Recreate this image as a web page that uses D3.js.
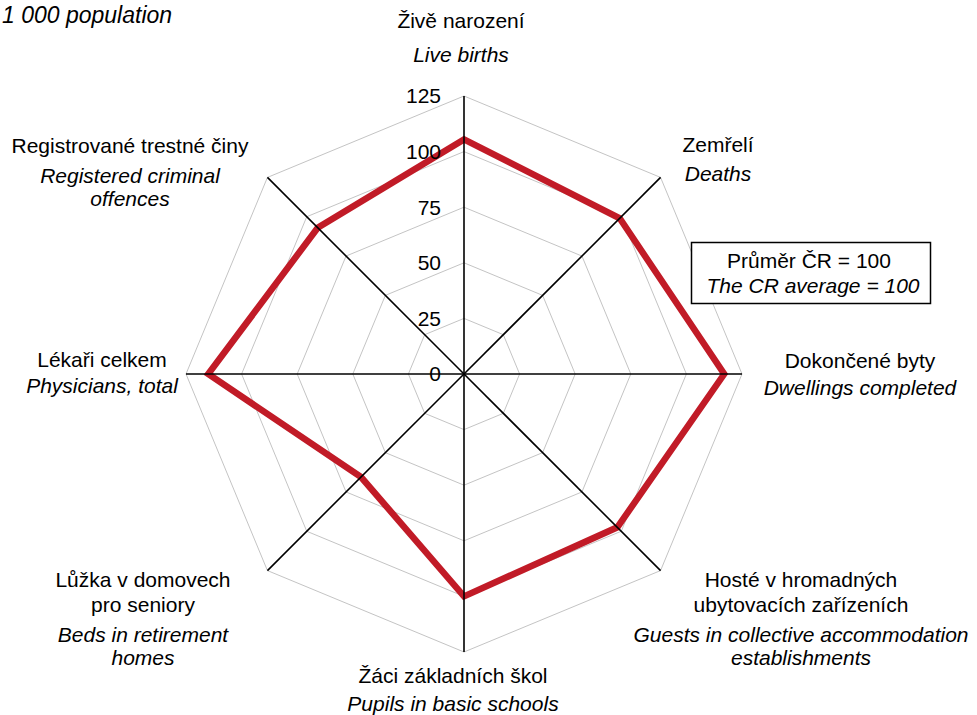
<!DOCTYPE html>
<html>
<head>
<meta charset="utf-8">
<script src="https://cdn.jsdelivr.net/npm/d3@7"></script>
<style>
  body { margin: 0; background: #fff; }
  text { font-family: "Liberation Sans", Arial, Helvetica, sans-serif; fill: #000; }
</style>
</head>
<body>
<div id="chart"></div>
<script>
// data
var axesCz = ["Živě narození", "Zemřelí", "Dokončené byty", "Hosté v hromadných|ubytovacích zařízeních",
  "Žáci základních škol", "Lůžka v domovech|pro seniory", "Lékaři celkem", "Registrované trestné činy"]
var axesEn = ["Live births", "Deaths", "Dwellings completed", "Guests in collective accommodation|establishments",
  "Pupils in basic schools", "Beds in retirement|homes", "Physicians, total", "Registered criminal|offences"]
var values = [105.5, 99, 117, 97.5, 100, 65.5, 115, 93]
var ticks = [0, 25, 50, 75, 100, 125]

// label anchors: x of centre, baseline of first line, gap to english line
var labelPos = [[461, 28, 34], [718, 152, 29], [860, 368, 27], [801, 587, 30],
  [453, 683, 28], [143, 587, 30], [102, 367, 26], [130, 153, 30]]

var width = 977, height = 715
var cx = 464, cy = 374
var fs = 21

var svg = d3.select("#chart").append("svg")
    .attr("width", width)
    .attr("height", height)

var r = d3.scaleLinear().domain([0, 125]).range([0, 278])
var n = axesCz.length
var angle = d3.scaleLinear().domain([0, n]).range([0, 2 * Math.PI])

function pt(i, v) {
  var a = angle(i)
  return [cx + r(v) * Math.sin(a), cy - r(v) * Math.cos(a)]
}

// grid rings
svg.append("g")
  .selectAll("path")
  .data(ticks.slice(1))
  .join("path")
    .attr("d", t => d3.line()(d3.range(n).map(i => pt(i, t))) + "Z")
    .attr("fill", "none")
    .attr("stroke", "#c4c4c4")
    .attr("stroke-width", 1)

// data line
svg.append("path")
    .attr("d", d3.line()(values.map((v, i) => pt(i, v))) + "Z")
    .attr("fill", "none")
    .attr("stroke", "#c11b27")
    .attr("stroke-width", 6.5)
    .attr("stroke-linejoin", "miter")

// spokes
svg.append("g")
  .selectAll("line")
  .data(d3.range(n))
  .join("line")
    .attr("x1", cx).attr("y1", cy)
    .attr("x2", i => pt(i, 125)[0])
    .attr("y2", i => pt(i, 125)[1])
    .attr("stroke", "#000")
    .attr("stroke-width", 1.6)

// tick labels
svg.append("g")
    .attr("text-anchor", "end")
    .attr("font-size", fs)
  .selectAll("text")
  .data(ticks)
  .join("text")
    .attr("x", cx - 23)
    .attr("y", t => cy - r(t))
    .attr("dy", "0.35em")
    .text(t => t)

// axis labels
var lab = svg.append("g").attr("text-anchor", "middle").attr("font-size", fs)
axesCz.forEach(function(name, i) {
  var p = labelPos[i]
  var cz = name.split("|"), en = axesEn[i].split("|")
  var y = p[1]
  cz.forEach(function(s, k) {
    if (k > 0) y += 25
    lab.append("text").attr("x", p[0]).attr("y", y).text(s)
  })
  y += p[2]
  en.forEach(function(s, k) {
    if (k > 0) y += 22.5
    lab.append("text").attr("x", p[0]).attr("y", y).attr("font-style", "italic").text(s)
  })
})

// legend box
var leg = svg.append("g")
leg.append("rect")
    .attr("x", 691.5).attr("y", 242.5)
    .attr("width", 239).attr("height", 61)
    .attr("fill", "#fff").attr("stroke", "#000").attr("stroke-width", 1.5)
leg.append("text").attr("x", 809).attr("y", 268).attr("text-anchor", "middle")
    .attr("font-size", fs).text("Průměr ČR = 100")
leg.append("text").attr("x", 813).attr("y", 293).attr("text-anchor", "middle")
    .attr("font-size", fs).attr("font-style", "italic").text("The CR average = 100")

// title fragment
svg.append("text").attr("x", 2).attr("y", 23)
    .attr("font-size", 23).attr("font-style", "italic")
    .text("1 000 population")
</script>
</body>
</html>
